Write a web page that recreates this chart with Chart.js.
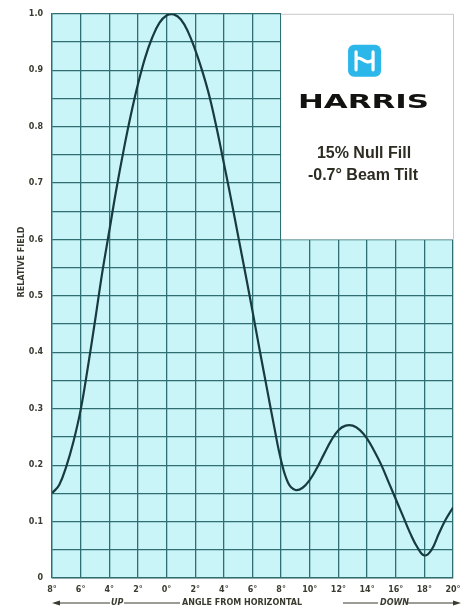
<!DOCTYPE html>
<html>
<head>
<meta charset="utf-8">
<script src="https://cdn.jsdelivr.net/npm/chart.js@4/dist/chart.umd.min.js"></script>
<style>
  html, body { margin: 0; padding: 0; background: #fff; }
  #wrap { width: 472px; height: 610px; }
</style>
</head>
<body>
<div id="wrap"><canvas id="mycanvas" width="472" height="610"></canvas></div>
<script>
// angle in degrees (negative = up, positive = down)
var angles = [-8, -7.5, -7, -6.5, -6, -5.5, -5, -4.5, -4, -3.5, -3, -2.5, -2, -1.5, -1, -0.5,
              0, 0.5, 1, 1.5, 2, 2.5, 3, 3.5, 4, 4.5, 5, 5.5, 6, 6.5, 7, 7.5, 8, 8.5,
              9, 9.5, 10, 10.5, 11, 11.5, 12, 12.5, 13, 13.5, 14, 14.5, 15, 15.5, 16,
              16.5, 17, 17.5, 18, 18.5, 19, 19.5, 20];
var field = [0.15, 0.165, 0.198, 0.242, 0.298, 0.373, 0.455, 0.54, 0.615, 0.69, 0.758, 0.82, 0.875, 0.922, 0.958, 0.984,
             0.997, 0.999, 0.99, 0.968, 0.936, 0.898, 0.853, 0.797, 0.735, 0.672, 0.606, 0.54, 0.473, 0.404, 0.337, 0.27, 0.208, 0.168,
             0.156, 0.16, 0.174, 0.195, 0.22, 0.244, 0.262, 0.27, 0.27, 0.262, 0.247, 0.225, 0.20, 0.17, 0.14,
             0.11, 0.08, 0.055, 0.04, 0.05, 0.078, 0.104, 0.125];
var xTicks = [-8, -6, -4, -2, 0, 2, 4, 6, 8, 10, 12, 14, 16, 18, 20];
var yLabels = ['0', '0.1', '0.2', '0.3', '0.4', '0.5', '0.6', '0.7', '0.8', '0.9', '1.0'];
var boxRange = { x: [8, 20], y: [0.6, 1.0] };
var boxLines = ['15% Null Fill', '-0.7\u00b0 Beam Tilt'];

var points = [];
for (var i in angles) {
    points.push({ x: angles[i], y: field[i] });
}

var tickFont = { family: 'DejaVu Sans', size: 8, weight: 'bold' };
var inkColor = '#3a3a30';

var paperPlugin = {
    id: 'paper',
    beforeDraw: function(chart) {
        var c = chart.ctx, a = chart.chartArea;
        c.save();
        c.fillStyle = '#c9f5f9';
        c.fillRect(a.left, a.top, a.right - a.left, a.bottom - a.top);
        c.restore();
    },
    beforeDatasetsDraw: function(chart) {
        var c = chart.ctx, xs = chart.scales.x, ys = chart.scales.y;
        var l = xs.getPixelForValue(boxRange.x[0]), r = xs.getPixelForValue(boxRange.x[1]);
        var t = ys.getPixelForValue(boxRange.y[1]), b = ys.getPixelForValue(boxRange.y[0]);
        c.save();
        c.fillStyle = '#ffffff';
        c.fillRect(l, t - 1, r - l + 2, b - t + 1);
        c.strokeStyle = '#c8c8c8';
        c.lineWidth = 1;
        c.beginPath();
        c.moveTo(l, t + 0.5); c.lineTo(r + 0.5, t + 0.5); c.lineTo(r + 0.5, b);
        c.stroke();

        // logo
        var cx = (l + r) / 2 - 3, ly = t + 31;
        c.fillStyle = '#2bb7ea';
        c.beginPath();
        c.roundRect(cx - 16, ly, 33, 32, 6);
        c.fill();
        c.strokeStyle = '#ffffff';
        c.lineWidth = 3.2;
        c.lineCap = 'round';
        c.beginPath();
        c.moveTo(cx - 8, ly + 7); c.lineTo(cx - 8, ly + 25);
        c.moveTo(cx + 9, ly + 7); c.lineTo(cx + 9, ly + 25);
        c.moveTo(cx - 8, ly + 15);
        c.bezierCurveTo(cx - 3, ly + 9, cx + 1, ly + 22, cx + 9, ly + 15);
        c.stroke();

        // wordmark
        c.fillStyle = '#121210';
        c.font = 'bold 20px "DejaVu Sans"';
        c.textAlign = 'left';
        c.textBaseline = 'alphabetic';
        var w = c.measureText('HARRIS').width;
        c.save();
        c.translate(298, t + 94);
        c.scale(131 / w, 1);
        c.fillText('HARRIS', 0, 0);
        c.restore();

        c.fillStyle = '#2c2c22';
        c.font = 'bold 16px "Liberation Sans"';
        c.textAlign = 'center';
        c.textBaseline = 'middle';
        c.fillText(boxLines[0], 364, t + 140);
        c.fillText(boxLines[1], 363, t + 162);
        c.restore();
    },
    afterDraw: function(chart) {
        var c = chart.ctx;
        c.save();
        c.fillStyle = inkColor;
        c.strokeStyle = inkColor;
        // y axis title
        c.font = 'bold 8px "DejaVu Sans"';
        c.textAlign = 'center';
        c.textBaseline = 'middle';
        c.translate(22, 262);
        c.rotate(-Math.PI / 2);
        c.fillText('RELATIVE FIELD', 0, 0);
        c.restore();

        // bottom caption with arrows
        c.save();
        c.fillStyle = inkColor;
        c.strokeStyle = inkColor;
        c.lineWidth = 1.2;
        var y = 603;
        c.beginPath();
        c.moveTo(56, y); c.lineTo(110, y);
        c.moveTo(124, y); c.lineTo(180, y);
        c.moveTo(343, y); c.lineTo(378, y);
        c.moveTo(408, y); c.lineTo(456, y);
        c.stroke();
        c.beginPath();
        c.moveTo(52, y); c.lineTo(60, y - 2.5); c.lineTo(60, y + 2.5); c.closePath();
        c.moveTo(461, y); c.lineTo(453, y - 2.5); c.lineTo(453, y + 2.5); c.closePath();
        c.fill();
        c.textBaseline = 'middle';
        c.textAlign = 'left';
        c.font = 'italic bold 8px "DejaVu Sans"';
        c.fillText('UP', 111, y);
        c.fillText('DOWN', 380, y);
        c.font = 'bold 8px "DejaVu Sans"';
        c.fillText('ANGLE FROM HORIZONTAL', 182, y);
        c.restore();
    }
};

var ctx = document.getElementById('mycanvas');
var myChart = new Chart(ctx, {
    type: 'line',
    data: {
        datasets: [{
            data: points,
            borderColor: '#173b3f',
            borderWidth: 2.2,
            pointRadius: 0,
            fill: false,
            tension: 0.4
        }]
    },
    options: {
        responsive: false,
        animation: false,
        events: [],
        layout: { padding: { top: 9, right: 19, bottom: 0, left: 0 } },
        plugins: { legend: { display: false }, tooltip: { enabled: false } },
        scales: {
            x: {
                type: 'linear',
                min: -8,
                max: 20,
                afterBuildTicks: function(scale) {
                    scale.ticks = xTicks.map(function(v) { return { value: v }; });
                },
                afterFit: function(scale) { scale.height = 32; },
                border: { display: true, color: '#8fa8a8', width: 1 },
                grid: { color: '#2f6e72', lineWidth: 1.3, drawTicks: false },
                ticks: {
                    padding: 7,
                    color: inkColor,
                    font: tickFont,
                    maxRotation: 0,
                    autoSkip: false,
                    callback: function(v) { return Math.abs(v) + '\u00b0'; }
                }
            },
            y: {
                min: 0,
                max: 1,
                afterBuildTicks: function(scale) {
                    var t = [];
                    for (var k = 0; k <= 20; k++) t.push({ value: k * 0.05 });
                    scale.ticks = t;
                },
                afterFit: function(scale) { scale.width = 52; },
                border: { display: true, color: '#2f6e72', width: 1.3 },
                grid: { color: '#2f6e72', lineWidth: 1.3, drawTicks: false },
                ticks: {
                    padding: 9,
                    color: inkColor,
                    font: tickFont,
                    autoSkip: false,
                    callback: function(v) {
                        var n = Math.round(v * 20);
                        return n % 2 === 0 ? yLabels[n / 2] : '';
                    }
                }
            }
        }
    },
    plugins: [paperPlugin]
});
</script>
</body>
</html>
